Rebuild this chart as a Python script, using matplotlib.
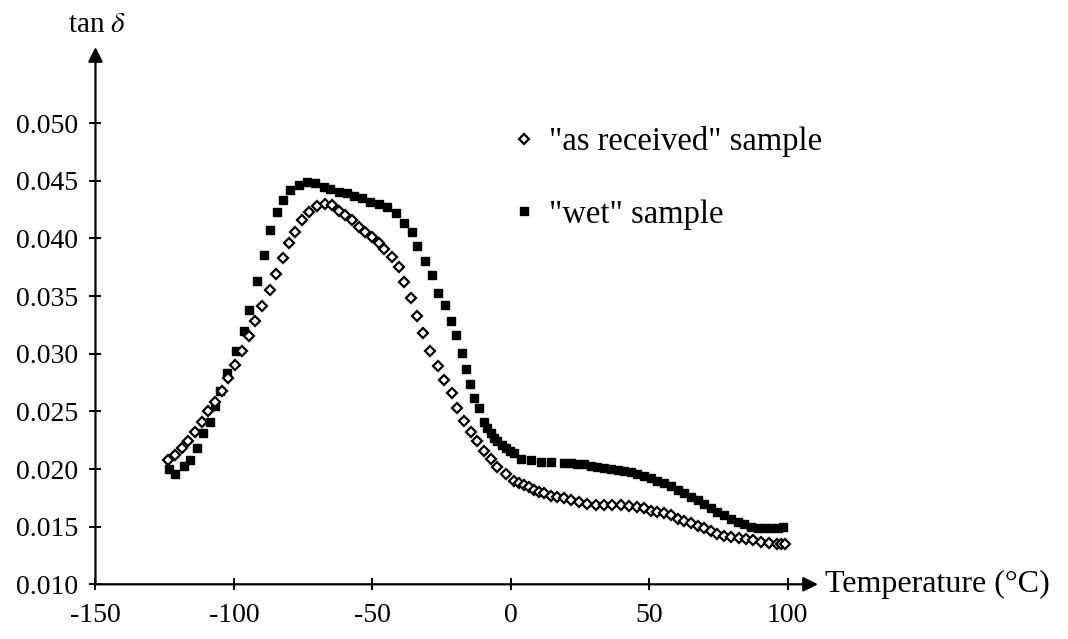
import matplotlib
matplotlib.use("Agg")
import matplotlib.pyplot as plt

plt.rcParams["font.family"] = ["Liberation Serif", "DejaVu Serif"]
plt.rcParams["mathtext.fontset"] = "stix"

# "as received" sample (open diamonds)
ar_temp = [-123.7, -121.2, -118.8, -116.4, -114.0, -111.6, -109.2, -106.8, -104.3, -102.0,
           -99.5, -97.1, -94.7, -92.3, -89.9, -86.9, -84.8, -82.3, -80.1, -77.8,
           -75.4, -73.0, -70.0, -67.0, -64.5, -62.2, -59.7, -57.3, -54.9, -52.5,
           -50.1, -47.7, -45.9, -42.8, -40.4, -38.6, -36.2, -34.0, -31.6, -29.0,
           -26.3, -24.2, -21.1, -19.3, -16.9, -14.5, -12.1, -9.7, -7.3, -4.8,
           -1.8, 1.2, 3.0, 4.8, 6.6, 8.4, 10.2, 12.0, 14.4, 16.9,
           19.3, 21.7, 24.7, 27.7, 30.7, 33.7, 36.7, 39.8, 42.8, 45.8,
           48.2, 50.6, 53.0, 55.4, 57.8, 60.3, 62.7, 65.1, 67.5, 69.9,
           72.3, 74.7, 77.1, 79.6, 82.3, 85.0, 87.7, 90.4, 93.3, 96.2,
           97.6, 99.1]
ar_tan = [0.0208, 0.0212, 0.0218, 0.0224, 0.0232, 0.0241, 0.0250, 0.0258, 0.0268, 0.0279,
          0.0290, 0.0302, 0.0315, 0.0328, 0.0341, 0.0355, 0.0369, 0.0383, 0.0396, 0.0406,
          0.0416, 0.0423, 0.0428, 0.0430, 0.0429, 0.0424, 0.0420, 0.0416, 0.0410, 0.0406,
          0.0401, 0.0396, 0.0391, 0.0384, 0.0375, 0.0362, 0.0348, 0.0333, 0.0318, 0.0302,
          0.0289, 0.0277, 0.0266, 0.0253, 0.0242, 0.0232, 0.0224, 0.0216, 0.0209, 0.0202,
          0.0196, 0.0190, 0.0188, 0.0186, 0.0184, 0.0182, 0.0180, 0.0179, 0.0177, 0.0176,
          0.0175, 0.0173, 0.0171, 0.0170, 0.0169, 0.0169, 0.0169, 0.0169, 0.0168, 0.0167,
          0.0166, 0.0164, 0.0163, 0.0162, 0.0160, 0.0157, 0.0155, 0.0153, 0.0151, 0.0149,
          0.0146, 0.0144, 0.0142, 0.0141, 0.0140, 0.0139, 0.0138, 0.0137, 0.0136, 0.0135,
          0.0135, 0.0135]

# "wet" sample (filled squares)
wet_temp = [-123.3, -121.2, -118.2, -115.8, -113.4, -111.0, -108.6, -106.8, -105.0, -102.5,
            -99.2, -96.5, -94.4, -91.7, -89.3, -86.9, -84.4, -82.3, -79.6, -76.6,
            -73.6, -70.6, -67.6, -65.2, -62.2, -59.1, -56.5, -53.7, -50.7, -47.7,
            -44.6, -41.6, -38.6, -35.6, -33.8, -31.1, -28.4, -26.3, -23.9, -21.5,
            -19.6, -17.5, -16.3, -14.8, -13.3, -11.5, -9.7, -8.5, -7.3, -6.0,
            -4.8, -3.3, -1.8, -0.3, 1.2, 3.6, 7.2, 10.8, 14.4, 19.2,
            21.6, 24.1, 26.5, 28.9, 31.3, 33.7, 36.2, 38.6, 41.0, 43.4,
            45.8, 48.2, 50.6, 53.0, 55.4, 57.9, 60.3, 62.7, 65.1, 67.5,
            69.9, 72.3, 74.7, 77.1, 79.5, 82.0, 84.4, 86.8, 89.2, 91.6,
            94.0, 96.5, 98.3]
wet_tan = [0.0200, 0.0196, 0.0203, 0.0208, 0.0218, 0.0231, 0.0241, 0.0255, 0.0268, 0.0283,
           0.0302, 0.0320, 0.0338, 0.0363, 0.0386, 0.0407, 0.0423, 0.0433, 0.0442, 0.0446,
           0.0449, 0.0448, 0.0445, 0.0443, 0.0440, 0.0439, 0.0437, 0.0435, 0.0432, 0.0430,
           0.0427, 0.0422, 0.0413, 0.0406, 0.0393, 0.0380, 0.0368, 0.0353, 0.0342, 0.0328,
           0.0316, 0.0301, 0.0287, 0.0274, 0.0262, 0.0253, 0.0241, 0.0236, 0.0231, 0.0227,
           0.0224, 0.0221, 0.0218, 0.0216, 0.0214, 0.0209, 0.0208, 0.0206, 0.0206, 0.0205,
           0.0205, 0.0204, 0.0204, 0.0203, 0.0202, 0.0201, 0.0200, 0.0199, 0.0198, 0.0197,
           0.0196, 0.0194, 0.0192, 0.0190, 0.0188, 0.0185, 0.0182, 0.0179, 0.0176, 0.0173,
           0.0170, 0.0166, 0.0163, 0.0160, 0.0157, 0.0154, 0.0152, 0.0150, 0.0149, 0.0149,
           0.0149, 0.0149, 0.0150]

x_ticks = [-150, -100, -50, 0, 50, 100]
y_ticks = [0.010, 0.015, 0.020, 0.025, 0.030, 0.035, 0.040, 0.045, 0.050]
y_labels = ["0.010", "0.015", "0.020", "0.025", "0.030", "0.035", "0.040", "0.045", "0.050"]

fig = plt.figure(figsize=(10.68, 6.39), dpi=100)
ax = fig.add_axes([0.0894, 0.0856, 0.6765, 0.8408])

ax.plot(wet_temp, wet_tan, "s", ms=5.5, color="black", ls="none", label='"wet" sample')
ax.plot(ar_temp, ar_tan, "D", ms=5.5, mfc="white", mec="black", mew=1.6, ls="none",
        label='"as received" sample')

ax.set_xlim(-150, 111)
ax.set_ylim(0.010, 0.0566)
for s in ax.spines.values():
    s.set_visible(False)

# axes drawn as arrows
ax.annotate("", xy=(1, 0), xytext=(0, 0), xycoords="axes fraction",
            arrowprops=dict(arrowstyle="-|>", lw=1.6, color="black", mutation_scale=22,
                            shrinkA=0, shrinkB=0))
ax.annotate("", xy=(0, 1), xytext=(0, 0), xycoords="axes fraction",
            arrowprops=dict(arrowstyle="-|>", lw=1.6, color="black", mutation_scale=22,
                            shrinkA=0, shrinkB=0))

ax.set_xticks(x_ticks)
ax.set_xticklabels([str(t) for t in x_ticks])
ax.set_yticks(y_ticks)
ax.set_yticklabels(y_labels)
ax.tick_params(direction="inout", length=9, width=1.4, labelsize=20)
ax.tick_params(axis="x", pad=9)
ax.tick_params(axis="y", pad=8)

ax.text(113.5, 0.010, "Temperature (\u00b0C)", fontsize=23, ha="left", va="center")
fig.text(97 / 1068, 1 - 25 / 639, r"tan $\delta$", fontsize=21, ha="center", va="center")

h, l = ax.get_legend_handles_labels()
ax.legend(h[::-1], l[::-1], loc="upper left", bbox_to_anchor=(498 / 1068, 1 - 110 / 639),
          bbox_transform=fig.transFigure, frameon=False, fontsize=23.5, numpoints=1,
          handlelength=0.6, handletextpad=0.47, labelspacing=1.29, borderpad=0)

fig.savefig("out.png", dpi=100)
